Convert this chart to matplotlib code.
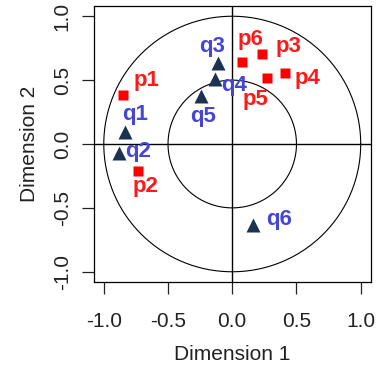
import numpy as np
import matplotlib
matplotlib.use("Agg")
import matplotlib.pyplot as plt

# Data
p_labels = ["p1", "p2", "p3", "p4", "p5", "p6"]
p_x = [-0.848, -0.731, 0.233, 0.410, 0.268, 0.078]
p_y = [0.383, -0.211, 0.702, 0.553, 0.519, 0.644]

q_labels = ["q1", "q2", "q3", "q4", "q5", "q6"]
q_x = [-0.835, -0.882, -0.114, -0.135, -0.244, 0.163]
q_y = [0.096, -0.073, 0.631, 0.506, 0.376, -0.634]

ticks = [-1.0, -0.5, 0.0, 0.5, 1.0]
tick_labels = ["-1.0", "-0.5", "0.0", "0.5", "1.0"]
radii = [1.0, 0.5]

# label offsets (pixels)
p_off = [(23, 15), (7, -16), (26, 8), (23, -5), (-11, -22), (8, 22)]
q_off = [(10, 17), (19, 2), (-6, 17), (19, -6), (2, -21), (26, 6)]

plt.rcParams['font.family'] = ['Liberation Sans', 'DejaVu Sans']

fig = plt.figure(figsize=(3.78, 3.68), dpi=100)
ax = fig.add_axes([93.5/378, 1-282/368, (371-93.5)/378, (282-6)/368])
ax.set_xlim(-1.08, 1.08)
ax.set_ylim(-1.08, 1.08)

t = np.linspace(0, 2*np.pi, 400)
for r in radii:
    ax.plot(r*np.cos(t), r*np.sin(t), color='black', lw=0.8, zorder=1)
ax.axhline(0, color='black', lw=1.0, zorder=1)
ax.axvline(0, color='black', lw=1.0, zorder=1)

ax.plot(p_x, p_y, 's', color='#ff0000', ms=7.2, mec='none', zorder=3)
ax.plot(q_x, q_y, '^', color='#1b3352', ms=9.5, mec='none', zorder=3)

for lab, x, y, o in zip(p_labels, p_x, p_y, p_off):
    ax.annotate(lab, (x, y), xytext=o, textcoords='offset pixels', ha='center', va='center',
                color='#ff1a1a', fontsize=16, fontweight='bold', zorder=4)
for lab, x, y, o in zip(q_labels, q_x, q_y, q_off):
    ax.annotate(lab, (x, y), xytext=o, textcoords='offset pixels', ha='center', va='center',
                color='#4545d6', fontsize=16, fontweight='bold', zorder=4)

ax.set_xticks(ticks)
ax.set_xticklabels(tick_labels)
ax.set_yticks(ticks)
ax.set_yticklabels(tick_labels, rotation=90, va='center')
ax.tick_params(axis='both', direction='out', length=8.6, width=0.9, labelsize=15, colors='#222222')
ax.tick_params(axis='x', pad=13)
ax.tick_params(axis='y', pad=7)
for s in ax.spines.values():
    s.set_linewidth(0.9)

ax.set_xlabel("Dimension 1", fontsize=15, color='#222222')
ax.set_ylabel("Dimension 2", fontsize=15, color='#222222')
ax.xaxis.set_label_coords(0.5, -0.23)
ax.yaxis.set_label_coords(-0.195, 0.5)

fig.savefig("out.png", dpi=100)
